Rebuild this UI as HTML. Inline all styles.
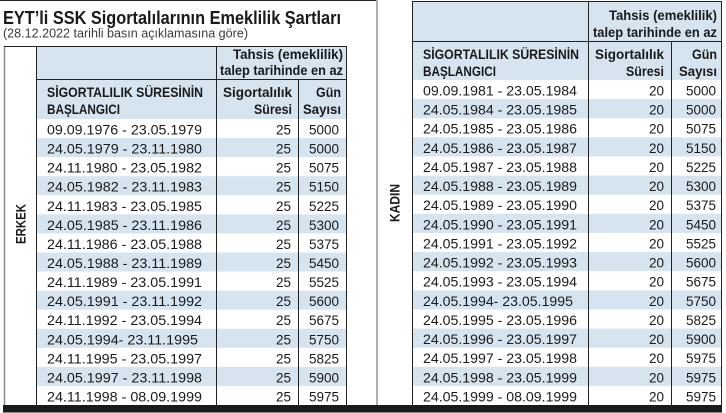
<!DOCTYPE html>
<html><head><meta charset="utf-8"><style>
html,body{margin:0;padding:0;background:#fff;}
svg{display:block;}
text{font-family:"Liberation Sans",sans-serif;fill:#1a1a1a;}
.h{font-weight:bold;font-size:13.5px;}
.d{font-size:14px;}
.n{font-size:13.5px;}
</style></head><body>
<svg width="726" height="413" viewBox="0 0 726 413" xmlns="http://www.w3.org/2000/svg">
<rect width="726" height="413" fill="#fff"/>
<!-- top line -->
<line x1="0" y1="0.5" x2="377" y2="0.5" stroke="#222" stroke-width="1"/>
<!-- title -->
<text x="3" y="24" style="font-weight:bold;font-size:18px;fill:#1a1a1a" textLength="338" lengthAdjust="spacingAndGlyphs">EYT’li SSK Sigortalılarının Emeklilik Şartları</text>
<text x="3" y="37.5" style="font-size:12.5px;fill:#3a3a3a" textLength="245" lengthAdjust="spacingAndGlyphs">(28.12.2022 tarihli basın açıklamasına göre)</text>

<!-- LEFT TABLE -->
<rect x="37" y="47" width="309" height="72" fill="#d6e4f0"/>
<g fill="#d6e4f0">
<rect x="37" y="138.07" width="309" height="19.07"/>
<rect x="37" y="176.21" width="309" height="19.07"/>
<rect x="37" y="214.35" width="309" height="19.07"/>
<rect x="37" y="252.49" width="309" height="19.07"/>
<rect x="37" y="290.63" width="309" height="19.07"/>
<rect x="37" y="328.77" width="309" height="19.07"/>
<rect x="37" y="366.91" width="309" height="19.07"/>
</g>
<line x1="4.5" y1="46" x2="4.5" y2="405" stroke="#8a8a8a" stroke-width="1.5"/>
<line x1="4" y1="46.5" x2="347" y2="46.5" stroke="#222" stroke-width="1"/>
<line x1="36.5" y1="46" x2="36.5" y2="405" stroke="#222" stroke-width="1"/>
<line x1="346.5" y1="46" x2="346.5" y2="405" stroke="#222" stroke-width="1"/>
<line x1="36" y1="79.5" x2="347" y2="79.5" stroke="#222" stroke-width="1"/>
<line x1="216.5" y1="46" x2="216.5" y2="405" stroke="#222" stroke-width="1"/>
<line x1="298.5" y1="79.5" x2="298.5" y2="405" stroke="#222" stroke-width="1"/>

<text class="h" x="343" y="59" text-anchor="end" textLength="110" lengthAdjust="spacingAndGlyphs">Tahsis (emeklilik)</text>
<text class="h" x="343" y="75" text-anchor="end" textLength="123" lengthAdjust="spacingAndGlyphs">talep tarihinde en az</text>
<text class="h" x="47" y="97" textLength="156" lengthAdjust="spacingAndGlyphs">SİGORTALILIK SÜRESİNİN</text>
<text class="h" x="47" y="114" textLength="73" lengthAdjust="spacingAndGlyphs">BAŞLANGICI</text>
<text class="h" x="292" y="97" text-anchor="end" textLength="69" lengthAdjust="spacingAndGlyphs">Sigortalılık</text>
<text class="h" x="292" y="114" text-anchor="end" textLength="38" lengthAdjust="spacingAndGlyphs">Süresi</text>
<text class="h" x="341" y="97" text-anchor="end" textLength="25" lengthAdjust="spacingAndGlyphs">Gün</text>
<text class="h" x="341" y="114" text-anchor="end" textLength="38" lengthAdjust="spacingAndGlyphs">Sayısı</text>

<text class="h" transform="translate(25.5,224) rotate(-90)" text-anchor="middle" textLength="40" lengthAdjust="spacingAndGlyphs">ERKEK</text>

<g>
<text class="d" x="47" y="134.5" textLength="155" lengthAdjust="spacingAndGlyphs">09.09.1976 - 23.05.1979</text>
<text class="d" x="47" y="153.57" textLength="155" lengthAdjust="spacingAndGlyphs">24.05.1979 - 23.11.1980</text>
<text class="d" x="47" y="172.64" textLength="155" lengthAdjust="spacingAndGlyphs">24.11.1980 - 23.05.1982</text>
<text class="d" x="47" y="191.71" textLength="155" lengthAdjust="spacingAndGlyphs">24.05.1982 - 23.11.1983</text>
<text class="d" x="47" y="210.78" textLength="155" lengthAdjust="spacingAndGlyphs">24.11.1983 - 23.05.1985</text>
<text class="d" x="47" y="229.85" textLength="155" lengthAdjust="spacingAndGlyphs">24.05.1985 - 23.11.1986</text>
<text class="d" x="47" y="248.92" textLength="155" lengthAdjust="spacingAndGlyphs">24.11.1986 - 23.05.1988</text>
<text class="d" x="47" y="267.99" textLength="155" lengthAdjust="spacingAndGlyphs">24.05.1988 - 23.11.1989</text>
<text class="d" x="47" y="287.06" textLength="155" lengthAdjust="spacingAndGlyphs">24.11.1989 - 23.05.1991</text>
<text class="d" x="47" y="306.13" textLength="155" lengthAdjust="spacingAndGlyphs">24.05.1991 - 23.11.1992</text>
<text class="d" x="47" y="325.2" textLength="155" lengthAdjust="spacingAndGlyphs">24.11.1992 - 23.05.1994</text>
<text class="d" x="47" y="344.27" textLength="151" lengthAdjust="spacingAndGlyphs">24.05.1994- 23.11.1995</text>
<text class="d" x="47" y="363.34" textLength="155" lengthAdjust="spacingAndGlyphs">24.11.1995 - 23.05.1997</text>
<text class="d" x="47" y="382.41" textLength="155" lengthAdjust="spacingAndGlyphs">24.05.1997 - 23.11.1998</text>
<text class="d" x="47" y="401.48" textLength="155" lengthAdjust="spacingAndGlyphs">24.11.1998 - 08.09.1999</text>
</g>
<g text-anchor="end">
<text class="n" x="291" y="134.5">25</text><text class="n" x="339" y="134.5">5000</text>
<text class="n" x="291" y="153.57">25</text><text class="n" x="339" y="153.57">5000</text>
<text class="n" x="291" y="172.64">25</text><text class="n" x="339" y="172.64">5075</text>
<text class="n" x="291" y="191.71">25</text><text class="n" x="339" y="191.71">5150</text>
<text class="n" x="291" y="210.78">25</text><text class="n" x="339" y="210.78">5225</text>
<text class="n" x="291" y="229.85">25</text><text class="n" x="339" y="229.85">5300</text>
<text class="n" x="291" y="248.92">25</text><text class="n" x="339" y="248.92">5375</text>
<text class="n" x="291" y="267.99">25</text><text class="n" x="339" y="267.99">5450</text>
<text class="n" x="291" y="287.06">25</text><text class="n" x="339" y="287.06">5525</text>
<text class="n" x="291" y="306.13">25</text><text class="n" x="339" y="306.13">5600</text>
<text class="n" x="291" y="325.2">25</text><text class="n" x="339" y="325.2">5675</text>
<text class="n" x="291" y="344.27">25</text><text class="n" x="339" y="344.27">5750</text>
<text class="n" x="291" y="363.34">25</text><text class="n" x="339" y="363.34">5825</text>
<text class="n" x="291" y="382.41">25</text><text class="n" x="339" y="382.41">5900</text>
<text class="n" x="291" y="401.48">25</text><text class="n" x="339" y="401.48">5975</text>
</g>

<!-- RIGHT TABLE -->
<rect x="413" y="2" width="308" height="78" fill="#d6e4f0"/>
<g fill="#d6e4f0">
<rect x="413" y="99.12" width="308" height="19.12"/>
<rect x="413" y="137.36" width="308" height="19.12"/>
<rect x="413" y="175.6" width="308" height="19.12"/>
<rect x="413" y="213.84" width="308" height="19.12"/>
<rect x="413" y="252.08" width="308" height="19.12"/>
<rect x="413" y="290.32" width="308" height="19.12"/>
<rect x="413" y="328.56" width="308" height="19.12"/>
<rect x="413" y="366.8" width="308" height="19.12"/>
</g>
<line x1="377" y1="0" x2="377" y2="405" stroke="#b0b0b0" stroke-width="2"/>
<line x1="412" y1="1.5" x2="722" y2="1.5" stroke="#222" stroke-width="1"/>
<line x1="412.5" y1="1" x2="412.5" y2="405" stroke="#222" stroke-width="1"/>
<line x1="721.5" y1="1" x2="721.5" y2="405" stroke="#222" stroke-width="1"/>
<line x1="412" y1="41.5" x2="722" y2="41.5" stroke="#222" stroke-width="1"/>
<line x1="588.5" y1="1" x2="588.5" y2="405" stroke="#222" stroke-width="1"/>
<line x1="671.5" y1="41.5" x2="671.5" y2="405" stroke="#222" stroke-width="1"/>

<text class="h" x="717" y="20" text-anchor="end" textLength="108" lengthAdjust="spacingAndGlyphs">Tahsis (emeklilik)</text>
<text class="h" x="717" y="37" text-anchor="end" textLength="124" lengthAdjust="spacingAndGlyphs">talep tarihinde en az</text>
<text class="h" x="423" y="59" textLength="156" lengthAdjust="spacingAndGlyphs">SİGORTALILIK SÜRESİNİN</text>
<text class="h" x="423" y="76" textLength="73" lengthAdjust="spacingAndGlyphs">BAŞLANGICI</text>
<text class="h" x="664" y="59" text-anchor="end" textLength="69" lengthAdjust="spacingAndGlyphs">Sigortalılık</text>
<text class="h" x="664" y="76" text-anchor="end" textLength="38" lengthAdjust="spacingAndGlyphs">Süresi</text>
<text class="h" x="717" y="59" text-anchor="end" textLength="25" lengthAdjust="spacingAndGlyphs">Gün</text>
<text class="h" x="717" y="76" text-anchor="end" textLength="38" lengthAdjust="spacingAndGlyphs">Sayısı</text>

<text class="h" transform="translate(399.5,203) rotate(-90)" text-anchor="middle" textLength="38" lengthAdjust="spacingAndGlyphs">KADIN</text>

<g>
<text class="d" x="423" y="95.5" textLength="154" lengthAdjust="spacingAndGlyphs">09.09.1981 - 23.05.1984</text>
<text class="d" x="423" y="114.62" textLength="154" lengthAdjust="spacingAndGlyphs">24.05.1984 - 23.05.1985</text>
<text class="d" x="423" y="133.74" textLength="154" lengthAdjust="spacingAndGlyphs">24.05.1985 - 23.05.1986</text>
<text class="d" x="423" y="152.86" textLength="154" lengthAdjust="spacingAndGlyphs">24.05.1986 - 23.05.1987</text>
<text class="d" x="423" y="171.98" textLength="154" lengthAdjust="spacingAndGlyphs">24.05.1987 - 23.05.1988</text>
<text class="d" x="423" y="191.1" textLength="154" lengthAdjust="spacingAndGlyphs">24.05.1988 - 23.05.1989</text>
<text class="d" x="423" y="210.22" textLength="154" lengthAdjust="spacingAndGlyphs">24.05.1989 - 23.05.1990</text>
<text class="d" x="423" y="229.34" textLength="154" lengthAdjust="spacingAndGlyphs">24.05.1990 - 23.05.1991</text>
<text class="d" x="423" y="248.46" textLength="154" lengthAdjust="spacingAndGlyphs">24.05.1991 - 23.05.1992</text>
<text class="d" x="423" y="267.58" textLength="154" lengthAdjust="spacingAndGlyphs">24.05.1992 - 23.05.1993</text>
<text class="d" x="423" y="286.7" textLength="154" lengthAdjust="spacingAndGlyphs">24.05.1993 - 23.05.1994</text>
<text class="d" x="423" y="305.82" textLength="150" lengthAdjust="spacingAndGlyphs">24.05.1994- 23.05.1995</text>
<text class="d" x="423" y="324.94" textLength="154" lengthAdjust="spacingAndGlyphs">24.05.1995 - 23.05.1996</text>
<text class="d" x="423" y="344.06" textLength="154" lengthAdjust="spacingAndGlyphs">24.05.1996 - 23.05.1997</text>
<text class="d" x="423" y="363.18" textLength="154" lengthAdjust="spacingAndGlyphs">24.05.1997 - 23.05.1998</text>
<text class="d" x="423" y="382.3" textLength="154" lengthAdjust="spacingAndGlyphs">24.05.1998 - 23.05.1999</text>
<text class="d" x="423" y="401.42" textLength="154" lengthAdjust="spacingAndGlyphs">24.05.1999 - 08.09.1999</text>
</g>
<g text-anchor="end">
<text class="n" x="664" y="95.5">20</text><text class="n" x="716" y="95.5">5000</text>
<text class="n" x="664" y="114.62">20</text><text class="n" x="716" y="114.62">5000</text>
<text class="n" x="664" y="133.74">20</text><text class="n" x="716" y="133.74">5075</text>
<text class="n" x="664" y="152.86">20</text><text class="n" x="716" y="152.86">5150</text>
<text class="n" x="664" y="171.98">20</text><text class="n" x="716" y="171.98">5225</text>
<text class="n" x="664" y="191.1">20</text><text class="n" x="716" y="191.1">5300</text>
<text class="n" x="664" y="210.22">20</text><text class="n" x="716" y="210.22">5375</text>
<text class="n" x="664" y="229.34">20</text><text class="n" x="716" y="229.34">5450</text>
<text class="n" x="664" y="248.46">20</text><text class="n" x="716" y="248.46">5525</text>
<text class="n" x="664" y="267.58">20</text><text class="n" x="716" y="267.58">5600</text>
<text class="n" x="664" y="286.7">20</text><text class="n" x="716" y="286.7">5675</text>
<text class="n" x="664" y="305.82">20</text><text class="n" x="716" y="305.82">5750</text>
<text class="n" x="664" y="324.94">20</text><text class="n" x="716" y="324.94">5825</text>
<text class="n" x="664" y="344.06">20</text><text class="n" x="716" y="344.06">5900</text>
<text class="n" x="664" y="363.18">20</text><text class="n" x="716" y="363.18">5975</text>
<text class="n" x="664" y="382.3">20</text><text class="n" x="716" y="382.3">5975</text>
<text class="n" x="664" y="401.42">20</text><text class="n" x="716" y="401.42">5975</text>
</g>

<!-- bottom bar -->
<rect x="3" y="405" width="719" height="7.5" fill="#1a1a1a"/>
</svg>
</body></html>
